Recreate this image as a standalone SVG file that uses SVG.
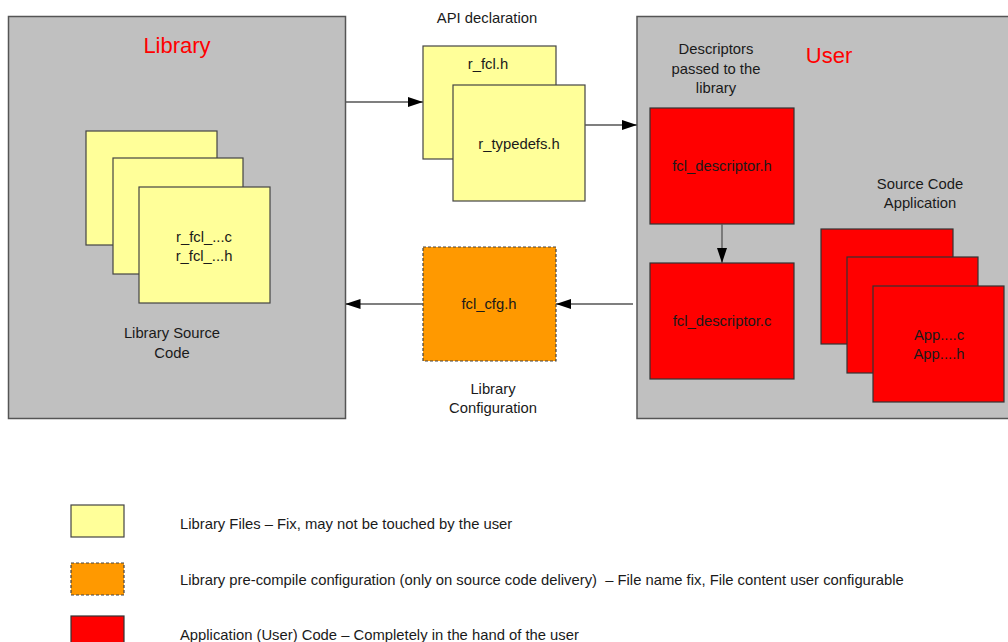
<svg xmlns="http://www.w3.org/2000/svg" width="1008" height="642" viewBox="0 0 1008 642">
  <style>
    text { font-family: "Liberation Sans", Arial, sans-serif; font-size: 14.8px; fill: #1a1a1a; text-anchor: middle; }
    .title { font-size: 22px; fill: #ff0000; }
    .legend { text-anchor: start; }
    .area { fill: #c0c0c0; stroke: #555555; stroke-width: 1.5; }
    .lib { fill: #ffff99; stroke: #444444; stroke-width: 1.2; }
    .cfg { fill: #ff9900; stroke: #444444; stroke-width: 1.2; stroke-dasharray: 3 2; }
    .app { fill: #ff0000; stroke: #333333; stroke-width: 1.2; }
    .conn { stroke: #555555; stroke-width: 1.3; fill: none; marker-end: url(#arrow); }
  </style>
  <defs>
    <marker id="arrow" viewBox="0 0 15 10" refX="15" refY="5" markerWidth="15" markerHeight="10" markerUnits="userSpaceOnUse" orient="auto">
      <path d="M0,0 L15,5 L0,10 Z" fill="#000000"/>
    </marker>
  </defs>

  <rect width="1008" height="642" fill="#ffffff"/>

  <!-- Library area -->
  <g id="library">
    <rect class="area" x="8.5" y="16.5" width="337" height="402"/>
    <text class="title" x="177" y="53">Library</text>
    <text x="172" y="338">Library Source</text>
    <text x="172" y="358">Code</text>
  </g>

  <g id="library-sources">
    <rect class="lib" x="86" y="131" width="131" height="114"/>
    <rect class="lib" x="113" y="158" width="130" height="116"/>
    <rect class="lib" x="139" y="187" width="131" height="116"/>
    <text x="204" y="242">r_fcl_...c</text>
    <text x="204" y="261">r_fcl_...h</text>
  </g>

  <!-- User area -->
  <g id="user">
    <rect class="area" x="637" y="16.5" width="380" height="402"/>
    <text class="title" x="829" y="63">User</text>
    <text x="716" y="54">Descriptors</text>
    <text x="716" y="74">passed to the</text>
    <text x="716" y="93">library</text>
    <text x="920" y="189">Source Code</text>
    <text x="920" y="208">Application</text>
  </g>

  <!-- API declaration headers -->
  <g id="api-declaration">
    <text x="487" y="23">API declaration</text>
    <rect class="lib" x="423" y="46" width="133" height="113"/>
    <text x="488" y="69">r_fcl.h</text>
  </g>
  <g id="r-typedefs">
    <rect class="lib" x="453" y="85" width="132" height="116"/>
    <text x="519" y="149">r_typedefs.h</text>
  </g>

  <!-- Library configuration -->
  <g id="fcl-cfg">
    <rect class="cfg" x="423" y="247" width="133" height="114"/>
    <text x="489" y="309">fcl_cfg.h</text>
    <text x="493" y="394">Library</text>
    <text x="493" y="413">Configuration</text>
  </g>

  <!-- Descriptor files -->
  <g id="fcl-descriptor-h">
    <rect class="app" x="650" y="108" width="144" height="116"/>
    <text x="722" y="171">fcl_descriptor.h</text>
  </g>
  <g id="fcl-descriptor-c">
    <rect class="app" x="650" y="263" width="144" height="116"/>
    <text x="722" y="326">fcl_descriptor.c</text>
  </g>

  <!-- Application sources -->
  <g id="app-sources">
    <rect class="app" x="821" y="229" width="132" height="115"/>
    <rect class="app" x="847" y="257" width="131" height="116"/>
    <rect class="app" x="873" y="286" width="131" height="116"/>
    <text x="939" y="340">App....c</text>
    <text x="939" y="359">App....h</text>
  </g>

  <!-- Connectors -->
  <g id="connectors">
    <line class="conn" x1="345.5" y1="102" x2="423" y2="102"/>
    <line class="conn" x1="585" y1="125" x2="637" y2="125"/>
    <line class="conn" x1="722" y1="224" x2="722" y2="263"/>
    <line class="conn" x1="633" y1="304" x2="556" y2="304"/>
    <line class="conn" x1="423" y1="304" x2="345.5" y2="304"/>
  </g>

  <!-- Legend -->
  <g id="legend-library">
    <rect class="lib" x="71" y="505" width="53" height="32"/>
    <text class="legend" x="180" y="529">Library Files – Fix, may not be touched by the user</text>
  </g>
  <g id="legend-config">
    <rect class="cfg" x="71" y="563" width="53" height="32"/>
    <text class="legend" x="180" y="585">Library pre-compile configuration (only on source code delivery)&#160; – File name fix, File content user configurable</text>
  </g>
  <g id="legend-application">
    <rect class="app" x="71" y="616" width="53" height="32"/>
    <text class="legend" x="180" y="640">Application (User) Code – Completely in the hand of the user</text>
  </g>
</svg>
